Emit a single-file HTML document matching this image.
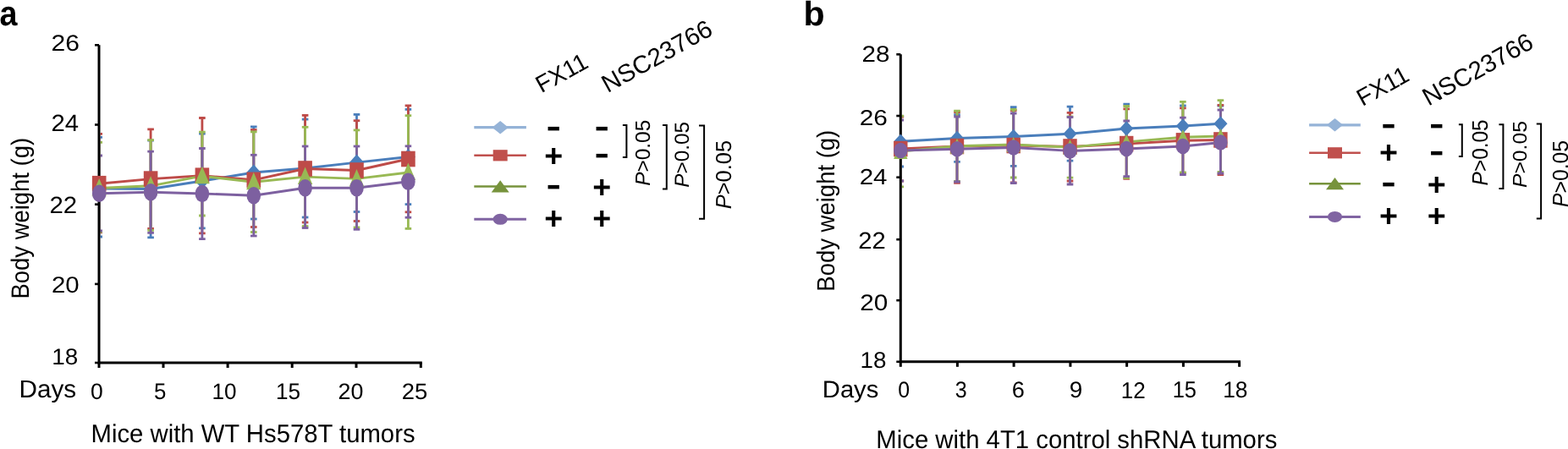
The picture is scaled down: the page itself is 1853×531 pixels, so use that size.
<!DOCTYPE html>
<html><head><meta charset="utf-8"><title>Body weight figure</title>
<style>html,body{margin:0;padding:0;background:#fff;width:1853px;height:531px;overflow:hidden}svg{display:block}</style>
</head><body>
<svg width="1853" height="531" viewBox="0 0 1853 531" font-family="&quot;Liberation Sans&quot;, Arial, sans-serif" text-rendering="geometricPrecision">
<rect width="1853" height="531" fill="#fff"/>
<text x="-0.58" y="29.94" font-size="41.27" font-weight="bold" font-style="normal" fill="#000" textLength="20.99" lengthAdjust="spacingAndGlyphs" >a</text>
<text x="949.47" y="30.34" font-size="40.54" font-weight="bold" font-style="normal" fill="#000" textLength="25.16" lengthAdjust="spacingAndGlyphs" >b</text>
<clipPath id="clipa"><rect x="118.5" y="0" width="401.8" height="429"/></clipPath>
<g clip-path="url(#clipa)">
<line x1="117.2" y1="162.4" x2="117.2" y2="280" stroke="#4a7ebb" stroke-width="2.8"/>
<line x1="113.4" y1="162.4" x2="121.0" y2="162.4" stroke="#4a7ebb" stroke-width="2.8"/>
<line x1="113.4" y1="280" x2="121.0" y2="280" stroke="#4a7ebb" stroke-width="2.8"/>
<line x1="178.1" y1="166.2" x2="178.1" y2="280.8" stroke="#4a7ebb" stroke-width="2.8"/>
<line x1="174.29999999999998" y1="166.2" x2="181.9" y2="166.2" stroke="#4a7ebb" stroke-width="2.8"/>
<line x1="174.29999999999998" y1="280.8" x2="181.9" y2="280.8" stroke="#4a7ebb" stroke-width="2.8"/>
<line x1="238.9" y1="158.2" x2="238.9" y2="269.8" stroke="#4a7ebb" stroke-width="2.8"/>
<line x1="235.1" y1="158.2" x2="242.70000000000002" y2="158.2" stroke="#4a7ebb" stroke-width="2.8"/>
<line x1="235.1" y1="269.8" x2="242.70000000000002" y2="269.8" stroke="#4a7ebb" stroke-width="2.8"/>
<line x1="299.8" y1="149.9" x2="299.8" y2="259" stroke="#4a7ebb" stroke-width="2.8"/>
<line x1="296.0" y1="149.9" x2="303.6" y2="149.9" stroke="#4a7ebb" stroke-width="2.8"/>
<line x1="296.0" y1="259" x2="303.6" y2="259" stroke="#4a7ebb" stroke-width="2.8"/>
<line x1="360.6" y1="141.1" x2="360.6" y2="257" stroke="#4a7ebb" stroke-width="2.8"/>
<line x1="356.8" y1="141.1" x2="364.40000000000003" y2="141.1" stroke="#4a7ebb" stroke-width="2.8"/>
<line x1="356.8" y1="257" x2="364.40000000000003" y2="257" stroke="#4a7ebb" stroke-width="2.8"/>
<line x1="421.5" y1="135.4" x2="421.5" y2="250.5" stroke="#4a7ebb" stroke-width="2.8"/>
<line x1="417.7" y1="135.4" x2="425.3" y2="135.4" stroke="#4a7ebb" stroke-width="2.8"/>
<line x1="417.7" y1="250.5" x2="425.3" y2="250.5" stroke="#4a7ebb" stroke-width="2.8"/>
<line x1="482.4" y1="129.4" x2="482.4" y2="241.6" stroke="#4a7ebb" stroke-width="2.8"/>
<line x1="478.59999999999997" y1="129.4" x2="486.2" y2="129.4" stroke="#4a7ebb" stroke-width="2.8"/>
<line x1="478.59999999999997" y1="241.6" x2="486.2" y2="241.6" stroke="#4a7ebb" stroke-width="2.8"/>
<line x1="117.2" y1="158.4" x2="117.2" y2="274.8" stroke="#be4b48" stroke-width="2.8"/>
<line x1="113.4" y1="158.4" x2="121.0" y2="158.4" stroke="#be4b48" stroke-width="2.8"/>
<line x1="113.4" y1="274.8" x2="121.0" y2="274.8" stroke="#be4b48" stroke-width="2.8"/>
<line x1="178.1" y1="152.9" x2="178.1" y2="270.3" stroke="#be4b48" stroke-width="2.8"/>
<line x1="174.29999999999998" y1="152.9" x2="181.9" y2="152.9" stroke="#be4b48" stroke-width="2.8"/>
<line x1="174.29999999999998" y1="270.3" x2="181.9" y2="270.3" stroke="#be4b48" stroke-width="2.8"/>
<line x1="238.9" y1="139.5" x2="238.9" y2="275.9" stroke="#be4b48" stroke-width="2.8"/>
<line x1="235.1" y1="139.5" x2="242.70000000000002" y2="139.5" stroke="#be4b48" stroke-width="2.8"/>
<line x1="235.1" y1="275.9" x2="242.70000000000002" y2="275.9" stroke="#be4b48" stroke-width="2.8"/>
<line x1="299.8" y1="153.5" x2="299.8" y2="268.5" stroke="#be4b48" stroke-width="2.8"/>
<line x1="296.0" y1="153.5" x2="303.6" y2="153.5" stroke="#be4b48" stroke-width="2.8"/>
<line x1="296.0" y1="268.5" x2="303.6" y2="268.5" stroke="#be4b48" stroke-width="2.8"/>
<line x1="360.6" y1="136.4" x2="360.6" y2="263" stroke="#be4b48" stroke-width="2.8"/>
<line x1="356.8" y1="136.4" x2="364.40000000000003" y2="136.4" stroke="#be4b48" stroke-width="2.8"/>
<line x1="356.8" y1="263" x2="364.40000000000003" y2="263" stroke="#be4b48" stroke-width="2.8"/>
<line x1="421.5" y1="142.7" x2="421.5" y2="261.5" stroke="#be4b48" stroke-width="2.8"/>
<line x1="417.7" y1="142.7" x2="425.3" y2="142.7" stroke="#be4b48" stroke-width="2.8"/>
<line x1="417.7" y1="261.5" x2="425.3" y2="261.5" stroke="#be4b48" stroke-width="2.8"/>
<line x1="482.4" y1="124.9" x2="482.4" y2="250.8" stroke="#be4b48" stroke-width="2.8"/>
<line x1="478.59999999999997" y1="124.9" x2="486.2" y2="124.9" stroke="#be4b48" stroke-width="2.8"/>
<line x1="478.59999999999997" y1="250.8" x2="486.2" y2="250.8" stroke="#be4b48" stroke-width="2.8"/>
<line x1="117.2" y1="168.4" x2="117.2" y2="274.2" stroke="#98b954" stroke-width="2.8"/>
<line x1="113.4" y1="168.4" x2="121.0" y2="168.4" stroke="#98b954" stroke-width="2.8"/>
<line x1="113.4" y1="274.2" x2="121.0" y2="274.2" stroke="#98b954" stroke-width="2.8"/>
<line x1="178.1" y1="165.7" x2="178.1" y2="272.3" stroke="#98b954" stroke-width="2.8"/>
<line x1="174.29999999999998" y1="165.7" x2="181.9" y2="165.7" stroke="#98b954" stroke-width="2.8"/>
<line x1="174.29999999999998" y1="272.3" x2="181.9" y2="272.3" stroke="#98b954" stroke-width="2.8"/>
<line x1="238.9" y1="156.2" x2="238.9" y2="255" stroke="#98b954" stroke-width="2.8"/>
<line x1="235.1" y1="156.2" x2="242.70000000000002" y2="156.2" stroke="#98b954" stroke-width="2.8"/>
<line x1="235.1" y1="255" x2="242.70000000000002" y2="255" stroke="#98b954" stroke-width="2.8"/>
<line x1="299.8" y1="155.9" x2="299.8" y2="274.5" stroke="#98b954" stroke-width="2.8"/>
<line x1="296.0" y1="155.9" x2="303.6" y2="155.9" stroke="#98b954" stroke-width="2.8"/>
<line x1="296.0" y1="274.5" x2="303.6" y2="274.5" stroke="#98b954" stroke-width="2.8"/>
<line x1="360.6" y1="150.3" x2="360.6" y2="267.5" stroke="#98b954" stroke-width="2.8"/>
<line x1="356.8" y1="150.3" x2="364.40000000000003" y2="150.3" stroke="#98b954" stroke-width="2.8"/>
<line x1="356.8" y1="267.5" x2="364.40000000000003" y2="267.5" stroke="#98b954" stroke-width="2.8"/>
<line x1="421.5" y1="153.9" x2="421.5" y2="268.9" stroke="#98b954" stroke-width="2.8"/>
<line x1="417.7" y1="153.9" x2="425.3" y2="153.9" stroke="#98b954" stroke-width="2.8"/>
<line x1="417.7" y1="268.9" x2="425.3" y2="268.9" stroke="#98b954" stroke-width="2.8"/>
<line x1="482.4" y1="136.7" x2="482.4" y2="270.4" stroke="#98b954" stroke-width="2.8"/>
<line x1="478.59999999999997" y1="136.7" x2="486.2" y2="136.7" stroke="#98b954" stroke-width="2.8"/>
<line x1="478.59999999999997" y1="270.4" x2="486.2" y2="270.4" stroke="#98b954" stroke-width="2.8"/>
<line x1="117.2" y1="184" x2="117.2" y2="273" stroke="#7d60a0" stroke-width="2.8"/>
<line x1="113.4" y1="184" x2="121.0" y2="184" stroke="#7d60a0" stroke-width="2.8"/>
<line x1="113.4" y1="273" x2="121.0" y2="273" stroke="#7d60a0" stroke-width="2.8"/>
<line x1="178.1" y1="179.2" x2="178.1" y2="275.4" stroke="#7d60a0" stroke-width="2.8"/>
<line x1="174.29999999999998" y1="179.2" x2="181.9" y2="179.2" stroke="#7d60a0" stroke-width="2.8"/>
<line x1="174.29999999999998" y1="275.4" x2="181.9" y2="275.4" stroke="#7d60a0" stroke-width="2.8"/>
<line x1="238.9" y1="175.5" x2="238.9" y2="282.6" stroke="#7d60a0" stroke-width="2.8"/>
<line x1="235.1" y1="175.5" x2="242.70000000000002" y2="175.5" stroke="#7d60a0" stroke-width="2.8"/>
<line x1="235.1" y1="282.6" x2="242.70000000000002" y2="282.6" stroke="#7d60a0" stroke-width="2.8"/>
<line x1="299.8" y1="183.3" x2="299.8" y2="279" stroke="#7d60a0" stroke-width="2.8"/>
<line x1="296.0" y1="183.3" x2="303.6" y2="183.3" stroke="#7d60a0" stroke-width="2.8"/>
<line x1="296.0" y1="279" x2="303.6" y2="279" stroke="#7d60a0" stroke-width="2.8"/>
<line x1="360.6" y1="173" x2="360.6" y2="269.5" stroke="#7d60a0" stroke-width="2.8"/>
<line x1="356.8" y1="173" x2="364.40000000000003" y2="173" stroke="#7d60a0" stroke-width="2.8"/>
<line x1="356.8" y1="269.5" x2="364.40000000000003" y2="269.5" stroke="#7d60a0" stroke-width="2.8"/>
<line x1="421.5" y1="173" x2="421.5" y2="271.3" stroke="#7d60a0" stroke-width="2.8"/>
<line x1="417.7" y1="173" x2="425.3" y2="173" stroke="#7d60a0" stroke-width="2.8"/>
<line x1="417.7" y1="271.3" x2="425.3" y2="271.3" stroke="#7d60a0" stroke-width="2.8"/>
<line x1="482.4" y1="172.8" x2="482.4" y2="257.2" stroke="#7d60a0" stroke-width="2.8"/>
<line x1="478.59999999999997" y1="172.8" x2="486.2" y2="172.8" stroke="#7d60a0" stroke-width="2.8"/>
<line x1="478.59999999999997" y1="257.2" x2="486.2" y2="257.2" stroke="#7d60a0" stroke-width="2.8"/>
</g>
<path d="M117 53.3 V429 H498.8" fill="none" stroke="#000" stroke-width="3.0" stroke-linejoin="miter"/>
<line x1="112" y1="53.3" x2="117" y2="53.3" stroke="#000" stroke-width="2.6"/>
<line x1="112" y1="147.5" x2="117" y2="147.5" stroke="#000" stroke-width="2.6"/>
<line x1="112" y1="241.7" x2="117" y2="241.7" stroke="#000" stroke-width="2.6"/>
<line x1="112" y1="335.9" x2="117" y2="335.9" stroke="#000" stroke-width="2.6"/>
<line x1="112" y1="429" x2="117" y2="429" stroke="#000" stroke-width="2.6"/>
<line x1="117" y1="429" x2="117" y2="435" stroke="#000" stroke-width="3"/>
<line x1="193" y1="429" x2="193" y2="435" stroke="#000" stroke-width="3"/>
<line x1="269.1" y1="429" x2="269.1" y2="435" stroke="#000" stroke-width="3"/>
<line x1="345.2" y1="429" x2="345.2" y2="435" stroke="#000" stroke-width="3"/>
<line x1="421" y1="429" x2="421" y2="435" stroke="#000" stroke-width="3"/>
<line x1="497.3" y1="429" x2="497.3" y2="435" stroke="#000" stroke-width="3"/>
<path d="M117.2 223.0 L178.1 223.5 L238.9 214.0 L299.8 204.0 L360.6 199.0 L421.5 192.1 L482.4 185.5" fill="none" stroke="#4a7ebb" stroke-width="2.9" stroke-linejoin="round"/>
<path d="M117.2 217.2 L178.1 211.6 L238.9 207.7 L299.8 212.8 L360.6 199.5 L421.5 201.5 L482.4 188.0" fill="none" stroke="#be4b48" stroke-width="2.9" stroke-linejoin="round"/>
<path d="M117.2 222.5 L178.1 219.8 L238.9 208.2 L299.8 215.3 L360.6 209.1 L421.5 211.4 L482.4 204.0" fill="none" stroke="#98b954" stroke-width="2.9" stroke-linejoin="round"/>
<path d="M117.2 228.8 L178.1 227.3 L238.9 229.0 L299.8 231.2 L360.6 222.2 L421.5 222.3 L482.4 214.8" fill="none" stroke="#7d60a0" stroke-width="2.9" stroke-linejoin="round"/>
<path d="M117.2 213.5 L125.7 223.0 L117.2 232.5 L108.7 223.0Z" fill="#4a7ebb"/>
<path d="M178.1 214.0 L186.6 223.5 L178.1 233.0 L169.6 223.5Z" fill="#4a7ebb"/>
<path d="M238.9 204.5 L247.4 214.0 L238.9 223.5 L230.4 214.0Z" fill="#4a7ebb"/>
<path d="M299.8 194.5 L308.3 204.0 L299.8 213.5 L291.3 204.0Z" fill="#4a7ebb"/>
<path d="M360.6 189.5 L369.1 199.0 L360.6 208.5 L352.1 199.0Z" fill="#4a7ebb"/>
<path d="M421.5 182.6 L430.0 192.1 L421.5 201.6 L413.0 192.1Z" fill="#4a7ebb"/>
<path d="M482.4 176.0 L490.9 185.5 L482.4 195.0 L473.9 185.5Z" fill="#4a7ebb"/>
<rect x="108.9" y="207.9" width="16.6" height="18.6" fill="#be4b48"/>
<rect x="169.8" y="202.3" width="16.6" height="18.6" fill="#be4b48"/>
<rect x="230.6" y="198.4" width="16.6" height="18.6" fill="#be4b48"/>
<rect x="291.5" y="203.5" width="16.6" height="18.6" fill="#be4b48"/>
<rect x="352.3" y="190.2" width="16.6" height="18.6" fill="#be4b48"/>
<rect x="413.2" y="192.2" width="16.6" height="18.6" fill="#be4b48"/>
<rect x="474.1" y="178.7" width="16.6" height="18.6" fill="#be4b48"/>
<path d="M117.2 211.0 L125.9 231.5 L108.5 231.5Z" fill="#98b954"/>
<path d="M178.1 208.3 L186.79999999999998 228.8 L169.4 228.8Z" fill="#98b954"/>
<path d="M238.9 196.7 L247.6 217.2 L230.20000000000002 217.2Z" fill="#98b954"/>
<path d="M299.8 203.8 L308.5 224.3 L291.1 224.3Z" fill="#98b954"/>
<path d="M360.6 197.6 L369.3 218.1 L351.90000000000003 218.1Z" fill="#98b954"/>
<path d="M421.5 199.9 L430.2 220.4 L412.8 220.4Z" fill="#98b954"/>
<path d="M482.4 192.5 L491.09999999999997 213.0 L473.7 213.0Z" fill="#98b954"/>
<ellipse cx="117.2" cy="228.8" rx="8.3" ry="10.2" fill="#7d60a0"/>
<ellipse cx="178.1" cy="227.3" rx="8.3" ry="10.2" fill="#7d60a0"/>
<ellipse cx="238.9" cy="229.0" rx="8.3" ry="10.2" fill="#7d60a0"/>
<ellipse cx="299.8" cy="231.2" rx="8.3" ry="10.2" fill="#7d60a0"/>
<ellipse cx="360.6" cy="222.2" rx="8.3" ry="10.2" fill="#7d60a0"/>
<ellipse cx="421.5" cy="222.3" rx="8.3" ry="10.2" fill="#7d60a0"/>
<ellipse cx="482.4" cy="214.8" rx="8.3" ry="10.2" fill="#7d60a0"/>
<text x="60.55" y="60.28" font-size="26.90" font-weight="normal" font-style="normal" fill="#000" textLength="33.43" lengthAdjust="spacingAndGlyphs" >26</text>
<text x="60.48" y="154.75" font-size="27.86" font-weight="normal" font-style="normal" fill="#000" textLength="32.61" lengthAdjust="spacingAndGlyphs" >24</text>
<text x="58.48" y="251.75" font-size="27.86" font-weight="normal" font-style="normal" fill="#000" textLength="32.71" lengthAdjust="spacingAndGlyphs" >22</text>
<text x="60.98" y="346.18" font-size="27.04" font-weight="normal" font-style="normal" fill="#000" textLength="32.72" lengthAdjust="spacingAndGlyphs" >20</text>
<text x="61.26" y="430.88" font-size="27.04" font-weight="normal" font-style="normal" fill="#000" textLength="30.97" lengthAdjust="spacingAndGlyphs" >18</text>
<text x="106.99" y="471.58" font-size="26.62" font-weight="normal" font-style="normal" fill="#000" textLength="14.75" lengthAdjust="spacingAndGlyphs" >0</text>
<text x="182.11" y="471.58" font-size="27.00" font-weight="normal" font-style="normal" fill="#000" textLength="14.40" lengthAdjust="spacingAndGlyphs" >5</text>
<text x="250.49" y="471.58" font-size="26.62" font-weight="normal" font-style="normal" fill="#000" textLength="29.07" lengthAdjust="spacingAndGlyphs" >10</text>
<text x="325.89" y="471.58" font-size="27.00" font-weight="normal" font-style="normal" fill="#000" textLength="29.07" lengthAdjust="spacingAndGlyphs" >15</text>
<text x="399.61" y="471.58" font-size="26.62" font-weight="normal" font-style="normal" fill="#000" textLength="29.88" lengthAdjust="spacingAndGlyphs" >20</text>
<text x="474.78" y="471.58" font-size="26.62" font-weight="normal" font-style="normal" fill="#000" textLength="30.53" lengthAdjust="spacingAndGlyphs" >25</text>
<text x="22.57" y="469.51" font-size="29.22" font-weight="normal" font-style="normal" fill="#000" textLength="67.67" lengthAdjust="spacingAndGlyphs" >Days</text>
<text x="107.51" y="522.55" font-size="30.14" font-weight="normal" font-style="normal" fill="#000" textLength="383.04" lengthAdjust="spacingAndGlyphs" >Mice with WT Hs578T tumors</text>
<text transform="translate(34.45,353.44) rotate(-90)" x="0" y="0" font-size="29.57" textLength="190.52" lengthAdjust="spacingAndGlyphs">Body weight (g)</text>
<line x1="560.3" y1="150.7" x2="621.9" y2="150.7" stroke="#95b3d7" stroke-width="3.2"/>
<path d="M591.2 142.89999999999998 L600.8000000000001 150.7 L591.2 158.5 L581.6 150.7Z" fill="#95b3d7"/>
<line x1="560.3" y1="183.8" x2="621.9" y2="183.8" stroke="#c0504d" stroke-width="2.4"/>
<rect x="582.7" y="177.20000000000002" width="17" height="13.2" fill="#c0504d"/>
<line x1="560.3" y1="220.5" x2="621.9" y2="220.5" stroke="#77933c" stroke-width="2.4"/>
<path d="M591.2 213.3 L601.7 227.5 L580.7 227.5Z" fill="#77933c"/>
<line x1="560.3" y1="259.3" x2="621.9" y2="259.3" stroke="#8064a2" stroke-width="3.0"/>
<ellipse cx="591.2" cy="259.3" rx="8.6" ry="6.5" fill="#8064a2"/>
<text x="645.50" y="161.98" font-size="38" font-weight="bold" textLength="17.50" lengthAdjust="spacingAndGlyphs">-</text>
<text x="702.40" y="161.98" font-size="38" font-weight="bold" textLength="17.50" lengthAdjust="spacingAndGlyphs">-</text>
<text x="643.30" y="196.68" font-size="37.5" font-weight="bold" textLength="21.97" lengthAdjust="spacingAndGlyphs">+</text>
<text x="702.40" y="194.18" font-size="38" font-weight="bold" textLength="17.50" lengthAdjust="spacingAndGlyphs">-</text>
<text x="645.50" y="231.08" font-size="38" font-weight="bold" textLength="17.50" lengthAdjust="spacingAndGlyphs">-</text>
<text x="700.20" y="233.57" font-size="37.5" font-weight="bold" textLength="21.97" lengthAdjust="spacingAndGlyphs">+</text>
<text x="643.30" y="271.38" font-size="37.5" font-weight="bold" textLength="21.97" lengthAdjust="spacingAndGlyphs">+</text>
<text x="700.20" y="271.38" font-size="37.5" font-weight="bold" textLength="21.97" lengthAdjust="spacingAndGlyphs">+</text>
<text transform="translate(639.82,110.60) rotate(-29)" x="0" y="0" font-size="28.30">FX11</text>
<text transform="translate(717.94,110.14) rotate(-29)" x="0" y="0" font-size="29.50">NSC23766</text>
<path d="M735.9 148 H740.4 V186 H735.9" fill="none" stroke="#000" stroke-width="2"/>
<path d="M783 148 H787.8 V223.5 H783" fill="none" stroke="#000" stroke-width="2"/>
<path d="M826 148.6 H832.1 V258.7 H826" fill="none" stroke="#000" stroke-width="2"/>
<text transform="translate(767.85,219.80) rotate(-90)" x="0" y="0" font-size="24.57" textLength="78.09" lengthAdjust="spacingAndGlyphs"><tspan font-style="italic">P</tspan>&gt;0.05</text>
<text transform="translate(814.35,221.80) rotate(-90)" x="0" y="0" font-size="24.00" textLength="77.88" lengthAdjust="spacingAndGlyphs"><tspan font-style="italic">P</tspan>&gt;0.05</text>
<text transform="translate(863.85,247.18) rotate(-90)" x="0" y="0" font-size="25.86" textLength="81.21" lengthAdjust="spacingAndGlyphs"><tspan font-style="italic">P</tspan>&gt;0.05</text>
<clipPath id="clipb"><rect x="1065.8" y="0" width="421.70000000000005" height="427.8"/></clipPath>
<g clip-path="url(#clipb)">
<line x1="1064.3" y1="137.6" x2="1064.3" y2="197" stroke="#4a7ebb" stroke-width="2.8"/>
<line x1="1060.5" y1="137.6" x2="1068.1" y2="137.6" stroke="#4a7ebb" stroke-width="2.8"/>
<line x1="1060.5" y1="197" x2="1068.1" y2="197" stroke="#4a7ebb" stroke-width="2.8"/>
<line x1="1131.0" y1="135.7" x2="1131.0" y2="191.3" stroke="#4a7ebb" stroke-width="2.8"/>
<line x1="1127.2" y1="135.7" x2="1134.8" y2="135.7" stroke="#4a7ebb" stroke-width="2.8"/>
<line x1="1127.2" y1="191.3" x2="1134.8" y2="191.3" stroke="#4a7ebb" stroke-width="2.8"/>
<line x1="1197.7" y1="126.6" x2="1197.7" y2="196.4" stroke="#4a7ebb" stroke-width="2.8"/>
<line x1="1193.9" y1="126.6" x2="1201.5" y2="126.6" stroke="#4a7ebb" stroke-width="2.8"/>
<line x1="1193.9" y1="196.4" x2="1201.5" y2="196.4" stroke="#4a7ebb" stroke-width="2.8"/>
<line x1="1264.5" y1="126.2" x2="1264.5" y2="190.2" stroke="#4a7ebb" stroke-width="2.8"/>
<line x1="1260.7" y1="126.2" x2="1268.3" y2="126.2" stroke="#4a7ebb" stroke-width="2.8"/>
<line x1="1260.7" y1="190.2" x2="1268.3" y2="190.2" stroke="#4a7ebb" stroke-width="2.8"/>
<line x1="1331.2" y1="123.2" x2="1331.2" y2="181" stroke="#4a7ebb" stroke-width="2.8"/>
<line x1="1327.4" y1="123.2" x2="1335.0" y2="123.2" stroke="#4a7ebb" stroke-width="2.8"/>
<line x1="1327.4" y1="181" x2="1335.0" y2="181" stroke="#4a7ebb" stroke-width="2.8"/>
<line x1="1397.9" y1="125" x2="1397.9" y2="173" stroke="#4a7ebb" stroke-width="2.8"/>
<line x1="1394.1000000000001" y1="125" x2="1401.7" y2="125" stroke="#4a7ebb" stroke-width="2.8"/>
<line x1="1394.1000000000001" y1="173" x2="1401.7" y2="173" stroke="#4a7ebb" stroke-width="2.8"/>
<line x1="1442.4" y1="125" x2="1442.4" y2="167" stroke="#4a7ebb" stroke-width="2.8"/>
<line x1="1438.6000000000001" y1="125" x2="1446.2" y2="125" stroke="#4a7ebb" stroke-width="2.8"/>
<line x1="1438.6000000000001" y1="167" x2="1446.2" y2="167" stroke="#4a7ebb" stroke-width="2.8"/>
<line x1="1064.3" y1="138" x2="1064.3" y2="214" stroke="#be4b48" stroke-width="2.8"/>
<line x1="1060.5" y1="138" x2="1068.1" y2="138" stroke="#be4b48" stroke-width="2.8"/>
<line x1="1060.5" y1="214" x2="1068.1" y2="214" stroke="#be4b48" stroke-width="2.8"/>
<line x1="1131.0" y1="132.5" x2="1131.0" y2="216.3" stroke="#be4b48" stroke-width="2.8"/>
<line x1="1127.2" y1="132.5" x2="1134.8" y2="132.5" stroke="#be4b48" stroke-width="2.8"/>
<line x1="1127.2" y1="216.3" x2="1134.8" y2="216.3" stroke="#be4b48" stroke-width="2.8"/>
<line x1="1197.7" y1="130.5" x2="1197.7" y2="216" stroke="#be4b48" stroke-width="2.8"/>
<line x1="1193.9" y1="130.5" x2="1201.5" y2="130.5" stroke="#be4b48" stroke-width="2.8"/>
<line x1="1193.9" y1="216" x2="1201.5" y2="216" stroke="#be4b48" stroke-width="2.8"/>
<line x1="1264.5" y1="133.4" x2="1264.5" y2="214" stroke="#be4b48" stroke-width="2.8"/>
<line x1="1260.7" y1="133.4" x2="1268.3" y2="133.4" stroke="#be4b48" stroke-width="2.8"/>
<line x1="1260.7" y1="214" x2="1268.3" y2="214" stroke="#be4b48" stroke-width="2.8"/>
<line x1="1331.2" y1="128.9" x2="1331.2" y2="211.3" stroke="#be4b48" stroke-width="2.8"/>
<line x1="1327.4" y1="128.9" x2="1335.0" y2="128.9" stroke="#be4b48" stroke-width="2.8"/>
<line x1="1327.4" y1="211.3" x2="1335.0" y2="211.3" stroke="#be4b48" stroke-width="2.8"/>
<line x1="1397.9" y1="127.8" x2="1397.9" y2="204.6" stroke="#be4b48" stroke-width="2.8"/>
<line x1="1394.1000000000001" y1="127.8" x2="1401.7" y2="127.8" stroke="#be4b48" stroke-width="2.8"/>
<line x1="1394.1000000000001" y1="204.6" x2="1401.7" y2="204.6" stroke="#be4b48" stroke-width="2.8"/>
<line x1="1442.4" y1="124.4" x2="1442.4" y2="206.6" stroke="#be4b48" stroke-width="2.8"/>
<line x1="1438.6000000000001" y1="124.4" x2="1446.2" y2="124.4" stroke="#be4b48" stroke-width="2.8"/>
<line x1="1438.6000000000001" y1="206.6" x2="1446.2" y2="206.6" stroke="#be4b48" stroke-width="2.8"/>
<line x1="1064.3" y1="137.2" x2="1064.3" y2="220.8" stroke="#98b954" stroke-width="2.8"/>
<line x1="1060.5" y1="137.2" x2="1068.1" y2="137.2" stroke="#98b954" stroke-width="2.8"/>
<line x1="1060.5" y1="220.8" x2="1068.1" y2="220.8" stroke="#98b954" stroke-width="2.8"/>
<line x1="1131.0" y1="131.2" x2="1131.0" y2="214.4" stroke="#98b954" stroke-width="2.8"/>
<line x1="1127.2" y1="131.2" x2="1134.8" y2="131.2" stroke="#98b954" stroke-width="2.8"/>
<line x1="1127.2" y1="214.4" x2="1134.8" y2="214.4" stroke="#98b954" stroke-width="2.8"/>
<line x1="1197.7" y1="129.5" x2="1197.7" y2="210" stroke="#98b954" stroke-width="2.8"/>
<line x1="1193.9" y1="129.5" x2="1201.5" y2="129.5" stroke="#98b954" stroke-width="2.8"/>
<line x1="1193.9" y1="210" x2="1201.5" y2="210" stroke="#98b954" stroke-width="2.8"/>
<line x1="1264.5" y1="138" x2="1264.5" y2="210.2" stroke="#98b954" stroke-width="2.8"/>
<line x1="1260.7" y1="138" x2="1268.3" y2="138" stroke="#98b954" stroke-width="2.8"/>
<line x1="1260.7" y1="210.2" x2="1268.3" y2="210.2" stroke="#98b954" stroke-width="2.8"/>
<line x1="1331.2" y1="125.5" x2="1331.2" y2="210.3" stroke="#98b954" stroke-width="2.8"/>
<line x1="1327.4" y1="125.5" x2="1335.0" y2="125.5" stroke="#98b954" stroke-width="2.8"/>
<line x1="1327.4" y1="210.3" x2="1335.0" y2="210.3" stroke="#98b954" stroke-width="2.8"/>
<line x1="1397.9" y1="120.4" x2="1397.9" y2="204" stroke="#98b954" stroke-width="2.8"/>
<line x1="1394.1000000000001" y1="120.4" x2="1401.7" y2="120.4" stroke="#98b954" stroke-width="2.8"/>
<line x1="1394.1000000000001" y1="204" x2="1401.7" y2="204" stroke="#98b954" stroke-width="2.8"/>
<line x1="1442.4" y1="118.7" x2="1442.4" y2="203.3" stroke="#98b954" stroke-width="2.8"/>
<line x1="1438.6000000000001" y1="118.7" x2="1446.2" y2="118.7" stroke="#98b954" stroke-width="2.8"/>
<line x1="1438.6000000000001" y1="203.3" x2="1446.2" y2="203.3" stroke="#98b954" stroke-width="2.8"/>
<line x1="1064.3" y1="142" x2="1064.3" y2="214" stroke="#7d60a0" stroke-width="2.8"/>
<line x1="1060.5" y1="142" x2="1068.1" y2="142" stroke="#7d60a0" stroke-width="2.8"/>
<line x1="1060.5" y1="214" x2="1068.1" y2="214" stroke="#7d60a0" stroke-width="2.8"/>
<line x1="1131.0" y1="138" x2="1131.0" y2="215" stroke="#7d60a0" stroke-width="2.8"/>
<line x1="1127.2" y1="138" x2="1134.8" y2="138" stroke="#7d60a0" stroke-width="2.8"/>
<line x1="1127.2" y1="215" x2="1134.8" y2="215" stroke="#7d60a0" stroke-width="2.8"/>
<line x1="1197.7" y1="134" x2="1197.7" y2="216.5" stroke="#7d60a0" stroke-width="2.8"/>
<line x1="1193.9" y1="134" x2="1201.5" y2="134" stroke="#7d60a0" stroke-width="2.8"/>
<line x1="1193.9" y1="216.5" x2="1201.5" y2="216.5" stroke="#7d60a0" stroke-width="2.8"/>
<line x1="1264.5" y1="138.5" x2="1264.5" y2="218" stroke="#7d60a0" stroke-width="2.8"/>
<line x1="1260.7" y1="138.5" x2="1268.3" y2="138.5" stroke="#7d60a0" stroke-width="2.8"/>
<line x1="1260.7" y1="218" x2="1268.3" y2="218" stroke="#7d60a0" stroke-width="2.8"/>
<line x1="1331.2" y1="143" x2="1331.2" y2="208.6" stroke="#7d60a0" stroke-width="2.8"/>
<line x1="1327.4" y1="143" x2="1335.0" y2="143" stroke="#7d60a0" stroke-width="2.8"/>
<line x1="1327.4" y1="208.6" x2="1335.0" y2="208.6" stroke="#7d60a0" stroke-width="2.8"/>
<line x1="1397.9" y1="139.1" x2="1397.9" y2="206.5" stroke="#7d60a0" stroke-width="2.8"/>
<line x1="1394.1000000000001" y1="139.1" x2="1401.7" y2="139.1" stroke="#7d60a0" stroke-width="2.8"/>
<line x1="1394.1000000000001" y1="206.5" x2="1401.7" y2="206.5" stroke="#7d60a0" stroke-width="2.8"/>
<line x1="1442.4" y1="130" x2="1442.4" y2="205" stroke="#7d60a0" stroke-width="2.8"/>
<line x1="1438.6000000000001" y1="130" x2="1446.2" y2="130" stroke="#7d60a0" stroke-width="2.8"/>
<line x1="1438.6000000000001" y1="205" x2="1446.2" y2="205" stroke="#7d60a0" stroke-width="2.8"/>
</g>
<path d="M1064.3 64.3 V427.8 H1466" fill="none" stroke="#000" stroke-width="3.0" stroke-linejoin="miter"/>
<line x1="1059.3" y1="64.3" x2="1064.3" y2="64.3" stroke="#000" stroke-width="2.6"/>
<line x1="1059.3" y1="137" x2="1064.3" y2="137" stroke="#000" stroke-width="2.6"/>
<line x1="1059.3" y1="209.7" x2="1064.3" y2="209.7" stroke="#000" stroke-width="2.6"/>
<line x1="1059.3" y1="283.2" x2="1064.3" y2="283.2" stroke="#000" stroke-width="2.6"/>
<line x1="1059.3" y1="355.2" x2="1064.3" y2="355.2" stroke="#000" stroke-width="2.6"/>
<line x1="1059.3" y1="427.8" x2="1064.3" y2="427.8" stroke="#000" stroke-width="2.6"/>
<line x1="1064.3" y1="427.8" x2="1064.3" y2="433.8" stroke="#000" stroke-width="3"/>
<line x1="1131.4" y1="427.8" x2="1131.4" y2="433.8" stroke="#000" stroke-width="3"/>
<line x1="1198.1" y1="427.8" x2="1198.1" y2="433.8" stroke="#000" stroke-width="3"/>
<line x1="1264.9" y1="427.8" x2="1264.9" y2="433.8" stroke="#000" stroke-width="3"/>
<line x1="1331.6" y1="427.8" x2="1331.6" y2="433.8" stroke="#000" stroke-width="3"/>
<line x1="1398.4" y1="427.8" x2="1398.4" y2="433.8" stroke="#000" stroke-width="3"/>
<line x1="1464.6" y1="427.8" x2="1464.6" y2="433.8" stroke="#000" stroke-width="3"/>
<path d="M1064.3 167.3 L1131.0 163.5 L1197.7 161.5 L1264.5 158.2 L1331.2 152.0 L1397.9 149.0 L1442.4 146.3" fill="none" stroke="#4a7ebb" stroke-width="2.9" stroke-linejoin="round"/>
<path d="M1064.3 176.0 L1131.0 173.0 L1197.7 172.0 L1264.5 173.5 L1331.2 170.1 L1397.9 166.3 L1442.4 165.5" fill="none" stroke="#be4b48" stroke-width="2.9" stroke-linejoin="round"/>
<path d="M1064.3 179.0 L1131.0 172.8 L1197.7 171.0 L1264.5 174.1 L1331.2 167.9 L1397.9 162.2 L1442.4 161.0" fill="none" stroke="#98b954" stroke-width="2.9" stroke-linejoin="round"/>
<path d="M1064.3 178.0 L1131.0 176.3 L1197.7 174.5 L1264.5 178.4 L1331.2 176.0 L1397.9 173.0 L1442.4 168.5" fill="none" stroke="#7d60a0" stroke-width="2.9" stroke-linejoin="round"/>
<path d="M1064.3 158.6 L1072.3999999999999 167.3 L1064.3 176.1 L1056.2 167.3Z" fill="#4a7ebb"/>
<path d="M1131.0 154.8 L1139.1 163.5 L1131.0 172.2 L1122.9 163.5Z" fill="#4a7ebb"/>
<path d="M1197.7 152.8 L1205.8 161.5 L1197.7 170.2 L1189.6000000000001 161.5Z" fill="#4a7ebb"/>
<path d="M1264.5 149.4 L1272.6 158.2 L1264.5 166.9 L1256.4 158.2Z" fill="#4a7ebb"/>
<path d="M1331.2 143.2 L1339.3 152.0 L1331.2 160.8 L1323.1000000000001 152.0Z" fill="#4a7ebb"/>
<path d="M1397.9 140.2 L1406.0 149.0 L1397.9 157.8 L1389.8000000000002 149.0Z" fill="#4a7ebb"/>
<path d="M1442.4 137.6 L1450.5 146.3 L1442.4 155.1 L1434.3000000000002 146.3Z" fill="#4a7ebb"/>
<rect x="1056.1" y="166.8" width="16.4" height="18.5" fill="#be4b48"/>
<rect x="1122.8" y="163.8" width="16.4" height="18.5" fill="#be4b48"/>
<rect x="1189.5" y="162.8" width="16.4" height="18.5" fill="#be4b48"/>
<rect x="1256.3" y="164.2" width="16.4" height="18.5" fill="#be4b48"/>
<rect x="1323.0" y="160.8" width="16.4" height="18.5" fill="#be4b48"/>
<rect x="1389.7" y="157.1" width="16.4" height="18.5" fill="#be4b48"/>
<rect x="1434.2" y="156.2" width="16.4" height="18.5" fill="#be4b48"/>
<path d="M1064.3 170.0 L1072.5 188.0 L1056.1 188.0Z" fill="#98b954"/>
<path d="M1131.0 163.8 L1139.2 181.8 L1122.8 181.8Z" fill="#98b954"/>
<path d="M1197.7 162.0 L1205.9 180.0 L1189.5 180.0Z" fill="#98b954"/>
<path d="M1264.5 165.1 L1272.7 183.1 L1256.3 183.1Z" fill="#98b954"/>
<path d="M1331.2 158.9 L1339.4 176.9 L1323.0 176.9Z" fill="#98b954"/>
<path d="M1397.9 153.2 L1406.1000000000001 171.2 L1389.7 171.2Z" fill="#98b954"/>
<path d="M1442.4 152.0 L1450.6000000000001 170.0 L1434.2 170.0Z" fill="#98b954"/>
<ellipse cx="1064.3" cy="178.0" rx="8.2" ry="9.2" fill="#7d60a0"/>
<ellipse cx="1131.0" cy="176.3" rx="8.2" ry="9.2" fill="#7d60a0"/>
<ellipse cx="1197.7" cy="174.5" rx="8.2" ry="9.2" fill="#7d60a0"/>
<ellipse cx="1264.5" cy="178.4" rx="8.2" ry="9.2" fill="#7d60a0"/>
<ellipse cx="1331.2" cy="176.0" rx="8.2" ry="9.2" fill="#7d60a0"/>
<ellipse cx="1397.9" cy="173.0" rx="8.2" ry="9.2" fill="#7d60a0"/>
<ellipse cx="1442.4" cy="168.5" rx="8.2" ry="9.2" fill="#7d60a0"/>
<text x="1018.47" y="72.58" font-size="26.90" font-weight="normal" font-style="normal" fill="#000" textLength="32.93" lengthAdjust="spacingAndGlyphs" >28</text>
<text x="1015.76" y="147.79" font-size="25.77" font-weight="normal" font-style="normal" fill="#000" textLength="33.21" lengthAdjust="spacingAndGlyphs" >26</text>
<text x="1015.67" y="217.85" font-size="26.14" font-weight="normal" font-style="normal" fill="#000" textLength="32.83" lengthAdjust="spacingAndGlyphs" >24</text>
<text x="1014.19" y="293.55" font-size="27.86" font-weight="normal" font-style="normal" fill="#000" textLength="32.49" lengthAdjust="spacingAndGlyphs" >22</text>
<text x="1016.16" y="366.88" font-size="26.90" font-weight="normal" font-style="normal" fill="#000" textLength="33.04" lengthAdjust="spacingAndGlyphs" >20</text>
<text x="1016.56" y="434.78" font-size="26.76" font-weight="normal" font-style="normal" fill="#000" textLength="30.97" lengthAdjust="spacingAndGlyphs" >18</text>
<text x="1061.26" y="470.48" font-size="26.76" font-weight="normal" font-style="normal" fill="#000" textLength="13.82" lengthAdjust="spacingAndGlyphs" >0</text>
<text x="1128.75" y="470.48" font-size="26.76" font-weight="normal" font-style="normal" fill="#000" textLength="13.96" lengthAdjust="spacingAndGlyphs" >3</text>
<text x="1195.69" y="470.48" font-size="26.76" font-weight="normal" font-style="normal" fill="#000" textLength="15.11" lengthAdjust="spacingAndGlyphs" >6</text>
<text x="1263.89" y="470.48" font-size="26.76" font-weight="normal" font-style="normal" fill="#000" textLength="15.55" lengthAdjust="spacingAndGlyphs" >9</text>
<text x="1324.79" y="470.75" font-size="27.14" font-weight="normal" font-style="normal" fill="#000" textLength="29.02" lengthAdjust="spacingAndGlyphs" >12</text>
<text x="1385.64" y="470.48" font-size="27.14" font-weight="normal" font-style="normal" fill="#000" textLength="28.28" lengthAdjust="spacingAndGlyphs" >15</text>
<text x="1445.18" y="470.48" font-size="26.76" font-weight="normal" font-style="normal" fill="#000" textLength="29.29" lengthAdjust="spacingAndGlyphs" >18</text>
<text x="971.81" y="470.22" font-size="28.22" font-weight="normal" font-style="normal" fill="#000" textLength="66.51" lengthAdjust="spacingAndGlyphs" >Days</text>
<text x="1035.31" y="529.85" font-size="30.14" font-weight="normal" font-style="normal" fill="#000" textLength="474.04" lengthAdjust="spacingAndGlyphs" >Mice with 4T1 control shRNA tumors</text>
<text transform="translate(985.65,344.65) rotate(-90)" x="0" y="0" font-size="29.28" textLength="190.93" lengthAdjust="spacingAndGlyphs">Body weight (g)</text>
<line x1="1547.1" y1="147.8" x2="1607.8" y2="147.8" stroke="#95b3d7" stroke-width="3.2"/>
<path d="M1577.5 140.0 L1587.1 147.8 L1577.5 155.60000000000002 L1567.9 147.8Z" fill="#95b3d7"/>
<line x1="1547.1" y1="180.8" x2="1607.8" y2="180.8" stroke="#c0504d" stroke-width="2.4"/>
<rect x="1569.0" y="174.20000000000002" width="17" height="13.2" fill="#c0504d"/>
<line x1="1547.1" y1="217.3" x2="1607.8" y2="217.3" stroke="#77933c" stroke-width="2.4"/>
<path d="M1577.5 210.10000000000002 L1588.0 224.3 L1567.0 224.3Z" fill="#77933c"/>
<line x1="1547.1" y1="256.4" x2="1607.8" y2="256.4" stroke="#8064a2" stroke-width="3.0"/>
<ellipse cx="1577.5" cy="256.4" rx="8.6" ry="6.5" fill="#8064a2"/>
<text x="1632.30" y="158.68" font-size="38" font-weight="bold" textLength="17.50" lengthAdjust="spacingAndGlyphs">-</text>
<text x="1689.00" y="158.68" font-size="38" font-weight="bold" textLength="17.50" lengthAdjust="spacingAndGlyphs">-</text>
<text x="1630.10" y="193.47" font-size="37.5" font-weight="bold" textLength="21.97" lengthAdjust="spacingAndGlyphs">+</text>
<text x="1689.00" y="190.98" font-size="38" font-weight="bold" textLength="17.50" lengthAdjust="spacingAndGlyphs">-</text>
<text x="1632.30" y="228.28" font-size="38" font-weight="bold" textLength="17.50" lengthAdjust="spacingAndGlyphs">-</text>
<text x="1686.80" y="230.78" font-size="37.5" font-weight="bold" textLength="21.97" lengthAdjust="spacingAndGlyphs">+</text>
<text x="1630.10" y="268.27" font-size="37.5" font-weight="bold" textLength="21.97" lengthAdjust="spacingAndGlyphs">+</text>
<text x="1686.80" y="268.27" font-size="37.5" font-weight="bold" textLength="21.97" lengthAdjust="spacingAndGlyphs">+</text>
<text transform="translate(1610.02,126.20) rotate(-29)" x="0" y="0" font-size="28.30">FX11</text>
<text transform="translate(1687.94,125.64) rotate(-29)" x="0" y="0" font-size="29.50">NSC23766</text>
<path d="M1723.9 147.2 H1727.8 V185.1 H1723.9" fill="none" stroke="#000" stroke-width="2"/>
<path d="M1771.4 147.2 H1776.4 V223 H1771.4" fill="none" stroke="#000" stroke-width="2"/>
<path d="M1815.8 146.5 H1821.1 V258.4 H1815.8" fill="none" stroke="#000" stroke-width="2"/>
<text transform="translate(1757.75,219.40) rotate(-90)" x="0" y="0" font-size="26.29" textLength="78.09" lengthAdjust="spacingAndGlyphs"><tspan font-style="italic">P</tspan>&gt;0.05</text>
<text transform="translate(1804.25,222.03) rotate(-90)" x="0" y="0" font-size="23.29" textLength="79.02" lengthAdjust="spacingAndGlyphs"><tspan font-style="italic">P</tspan>&gt;0.05</text>
<text transform="translate(1853.35,244.93) rotate(-90)" x="0" y="0" font-size="26.14" textLength="79.02" lengthAdjust="spacingAndGlyphs"><tspan font-style="italic">P</tspan>&gt;0.05</text>
</svg>
</body></html>
